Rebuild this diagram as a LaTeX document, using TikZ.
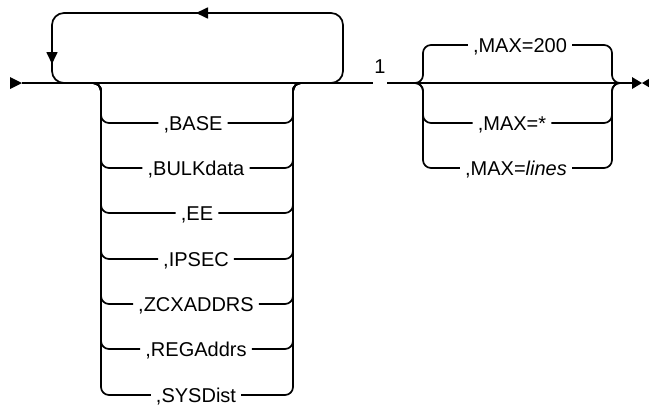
\documentclass[tikz,border=0pt]{standalone}
\usepackage{fontspec}
\setmainfont{Liberation Sans}
\usetikzlibrary{arrows.meta}
\begin{document}
\begin{tikzpicture}[
  x=1pt, y=-1pt,
  rail/.style={line width=1.7pt, draw=black, rounded corners=8pt},
  opt/.style={inner xsep=5pt, inner ysep=0pt, text height=14pt, text depth=0pt, font=\fontsize{20}{23}\selectfont},
  railtip/.style={line width=1.7pt, -{Triangle[length=12pt, width=11pt]}}
]
  \useasboundingbox (0,0) rectangle (649,410);

  % --- Línea principal ---
  \coordinate (start) at (22,83);
  \coordinate (finish) at (632,83);
  \draw[rail] (start) -- (finish);
  \fill (start) -- ++(-12,-6) -- ++(0,12) -- cycle;
  \fill (finish) ++(0,-6) -- ++(10,6) -- ++(-10,6) -- cycle;
  \fill (finish) ++(10,0) -- ++(10,-6) -- ++(0,12) -- cycle;

  % --- Bucle de repetición ---
  \coordinate (loopin) at (330,83);
  \coordinate (loopout) at (64,83);
  \draw[rail, rounded corners=12pt] (loopin) -| (343,13) -| (52,83) -- (loopout);
  \draw[railtip] (214,13) -- (196,13);
  \draw[railtip] (52,40) -- (52,64);

  % --- Opciones del bucle ---
  \coordinate (g1in) at (92,83);
  \coordinate (g1out) at (302,83);
  \node[opt] (base) at (193,123) {,BASE};
  \node[opt] (bulk) at (196,168) {,BULKdata};
  \node[opt] (ee) at (197,213) {,EE};
  \node[opt] (ipsec) at (196,259) {,IPSEC};
  \node[opt] (zcx) at (196,304) {,ZCXADDRS};
  \node[opt] (reg) at (196,349) {,REGAddrs};
  \node[opt] (sys) at (196,395) {,SYSDist};

  \draw[rail] (g1in) -| (101,123) -- (base) (base) -| (293,83) -- (g1out);
  \draw[rail] (g1in) -| (101,168) -- (bulk) (bulk) -| (293,83) -- (g1out);
  \draw[rail] (g1in) -| (101,213) -- (ee) (ee) -| (293,83) -- (g1out);
  \draw[rail] (g1in) -| (101,259) -- (ipsec) (ipsec) -| (293,83) -- (g1out);
  \draw[rail] (g1in) -| (101,304) -- (zcx) (zcx) -| (293,83) -- (g1out);
  \draw[rail] (g1in) -| (101,349) -- (reg) (reg) -| (293,83) -- (g1out);
  \draw[rail] (g1in) -| (101,395) -- (sys) (sys) -| (293,83) -- (g1out);

  % --- Nota 1 ---
  \node[opt, fill=white, inner xsep=1pt, text depth=12pt, anchor=base] (one) at (380,73) {1};

  % --- Opciones MAX ---
  \coordinate (g2in) at (415,83);
  \coordinate (g2out) at (620,83);
  \node[opt] (max200) at (520,45) {,MAX=200};
  \node[opt] (maxstar) at (512,123) {,MAX=*};
  \node[opt] (maxlines) at (516,168) {,MAX=\textit{lines}};

  \draw[rail] (g2in) -| (423,45) -- (max200) (max200) -| (612,83) -- (g2out);
  \draw[rail] (g2in) -| (423,123) -- (maxstar) (maxstar) -| (612,83) -- (g2out);
  \draw[rail] (g2in) -| (423,168) -- (maxlines) (maxlines) -| (612,83) -- (g2out);

\end{tikzpicture}
\end{document}
